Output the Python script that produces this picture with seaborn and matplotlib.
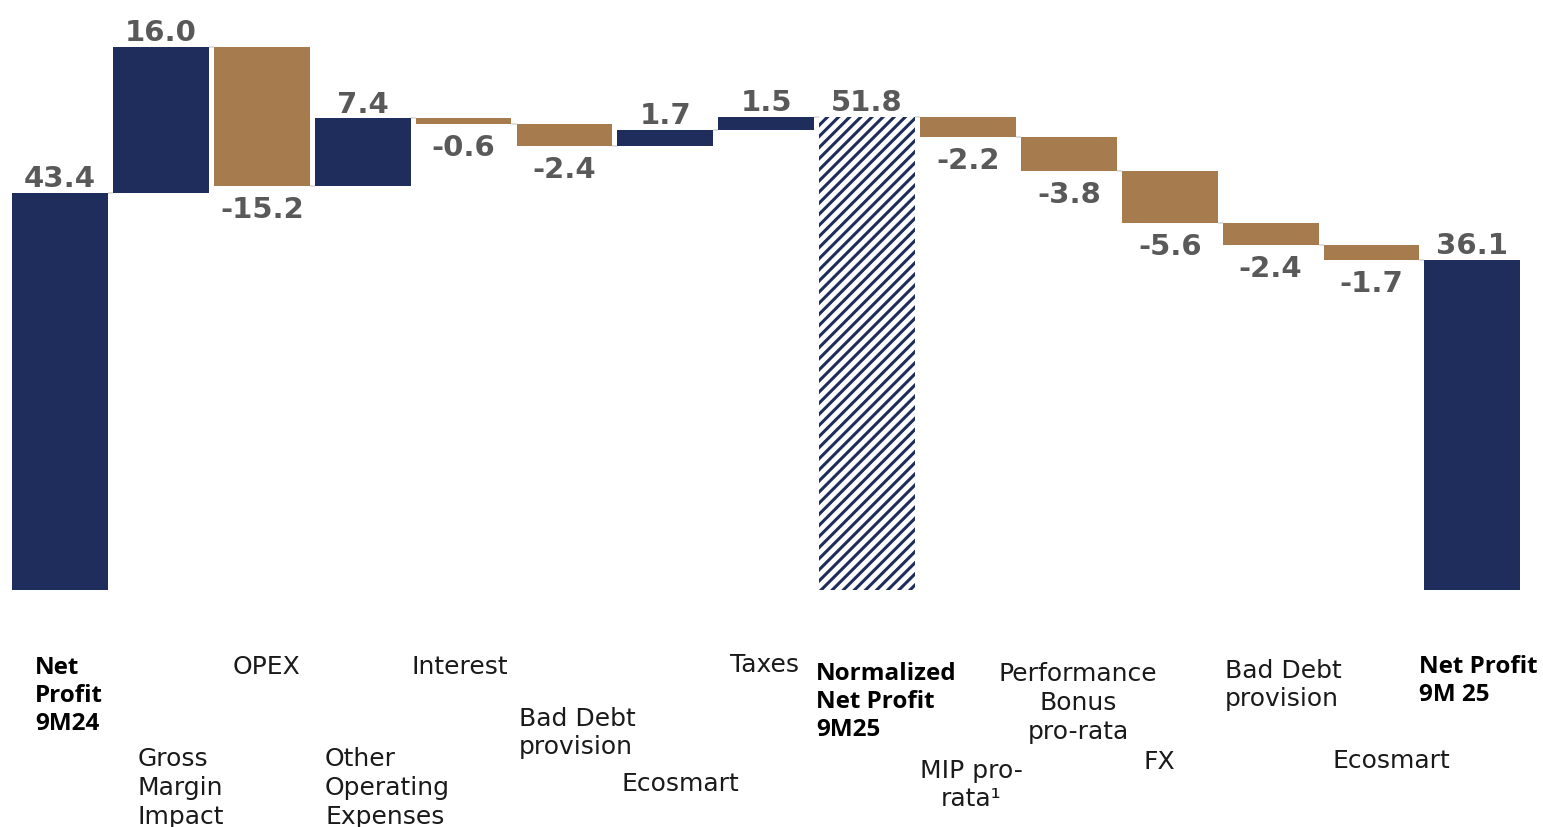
import matplotlib
matplotlib.use("Agg")
import matplotlib.pyplot as plt
import numpy as np
import pandas as pd
import seaborn as sns

# --- data -------------------------------------------------------------
categories = [
    "Net\nProfit\n9M24",
    "Gross\nMargin\nImpact",
    "OPEX",
    "Other\nOperating\nExpenses",
    "Interest",
    "Bad Debt\nprovision",
    "Ecosmart",
    "Taxes",
    "Normalized\nNet Profit\n9M25",
    "MIP pro-\nrata\u00b9",
    "Performance\nBonus\npro-rata",
    "FX",
    "Bad Debt\nprovision",
    "Ecosmart",
    "Net Profit\n9M 25",
]
values = [43.4, 16.0, -15.2, 7.4, -0.6, -2.4, 1.7, 1.5,
          51.8, -2.2, -3.8, -5.6, -2.4, -1.7, 36.1]
is_total = [True, False, False, False, False, False, False, False,
            True, False, False, False, False, False, True]
hatched = [False] * 8 + [True] + [False] * 6

# --- style ------------------------------------------------------------
NAVY = "#1f2d5c"
TAN = "#a67c4e"
VALUE_GREY = "#595959"
CONNECTOR = "#d9d9d9"

sns.set_theme(style="white")
plt.rcParams["font.family"] = ["DejaVu Sans"]
plt.rcParams["hatch.linewidth"] = 2.2
plt.rcParams["hatch.color"] = NAVY

# --- waterfall geometry ---------------------------------------------------
bottoms, heights, levels = [], [], []
running = 0.0
for v, tot in zip(values, is_total):
    if tot:
        bottoms.append(0.0)
        heights.append(v)
        running = v
    else:
        bottoms.append(running)
        heights.append(v)
        running += v
    levels.append(running)

df = pd.DataFrame({"pos": np.arange(len(values)), "height": heights})

W, H = 1543, 828
fig = plt.figure(figsize=(W / 100, H / 100), dpi=100)
ax = fig.add_axes([0, 0, 1, 1])

BAR_W = 0.95
sns.barplot(data=df, x="pos", y="height", bottom=bottoms, native_scale=True,
            width=BAR_W, color=NAVY, linewidth=0, errorbar=None, ax=ax)

for patch, v, tot, hat in zip(ax.patches, values, is_total, hatched):
    if hat:
        patch.set_facecolor("white")
        patch.set_edgecolor(NAVY)
        patch.set_hatch("///")
        patch.set_linewidth(0)
    elif tot or v > 0:
        patch.set_facecolor(NAVY)
    else:
        patch.set_facecolor(TAN)

# thin connectors between consecutive bars
for i in range(len(values) - 1):
    ax.plot([i + BAR_W / 2, i + 1 - BAR_W / 2], [levels[i], levels[i]],
            color=CONNECTOR, lw=1.2, solid_capstyle="butt", zorder=1)

# value labels
for i, (v, tot) in enumerate(zip(values, is_total)):
    top = max(bottoms[i], bottoms[i] + heights[i])
    low = min(bottoms[i], bottoms[i] + heights[i])
    if tot or v > 0:
        ax.text(i, top + 0.75, f"{v:.1f}", ha="center", va="baseline",
                fontsize=21, fontweight="bold", color=VALUE_GREY)
    else:
        ax.text(i, low - 3.4, f"{v:.1f}", ha="center", va="baseline",
                fontsize=21, fontweight="bold", color=VALUE_GREY)

# category labels, staggered beneath the bars (pixel positions in the figure)
label_layout = [
    (35, 696, "left"), (138, 788, "left"), (266, 667, "center"),
    (325, 788, "left"), (460, 667, "center"), (519, 733, "left"),
    (680, 784, "center"), (764, 665, "center"), (816, 702, "left"),
    (971, 785, "center"), (1078, 703, "center"), (1159, 762, "center"),
    (1225, 685, "left"), (1391, 761, "center"), (1419, 681, "left"),
]
for name, tot, (px, py, ha) in zip(categories, is_total, label_layout):
    if tot:
        style = dict(fontsize=17.5, linespacing=1.2, fontweight="bold",
                     family=["Open Sans", "DejaVu Sans"], color="#000000")
    else:
        style = dict(fontsize=18, linespacing=1.25, fontweight="normal",
                     color="#1a1a1a")
    fig.text(px / W, 1 - py / H, name, ha=ha, va="center", multialignment=ha,
             **style)

# axis scaling: baseline near the lower part, room below for labels
ax.set_xlim(-0.595, 14.70)
ax.set_ylim(-25.93, 64.66)
ax.set_axis_off()

fig.savefig("out.png", dpi=100)
